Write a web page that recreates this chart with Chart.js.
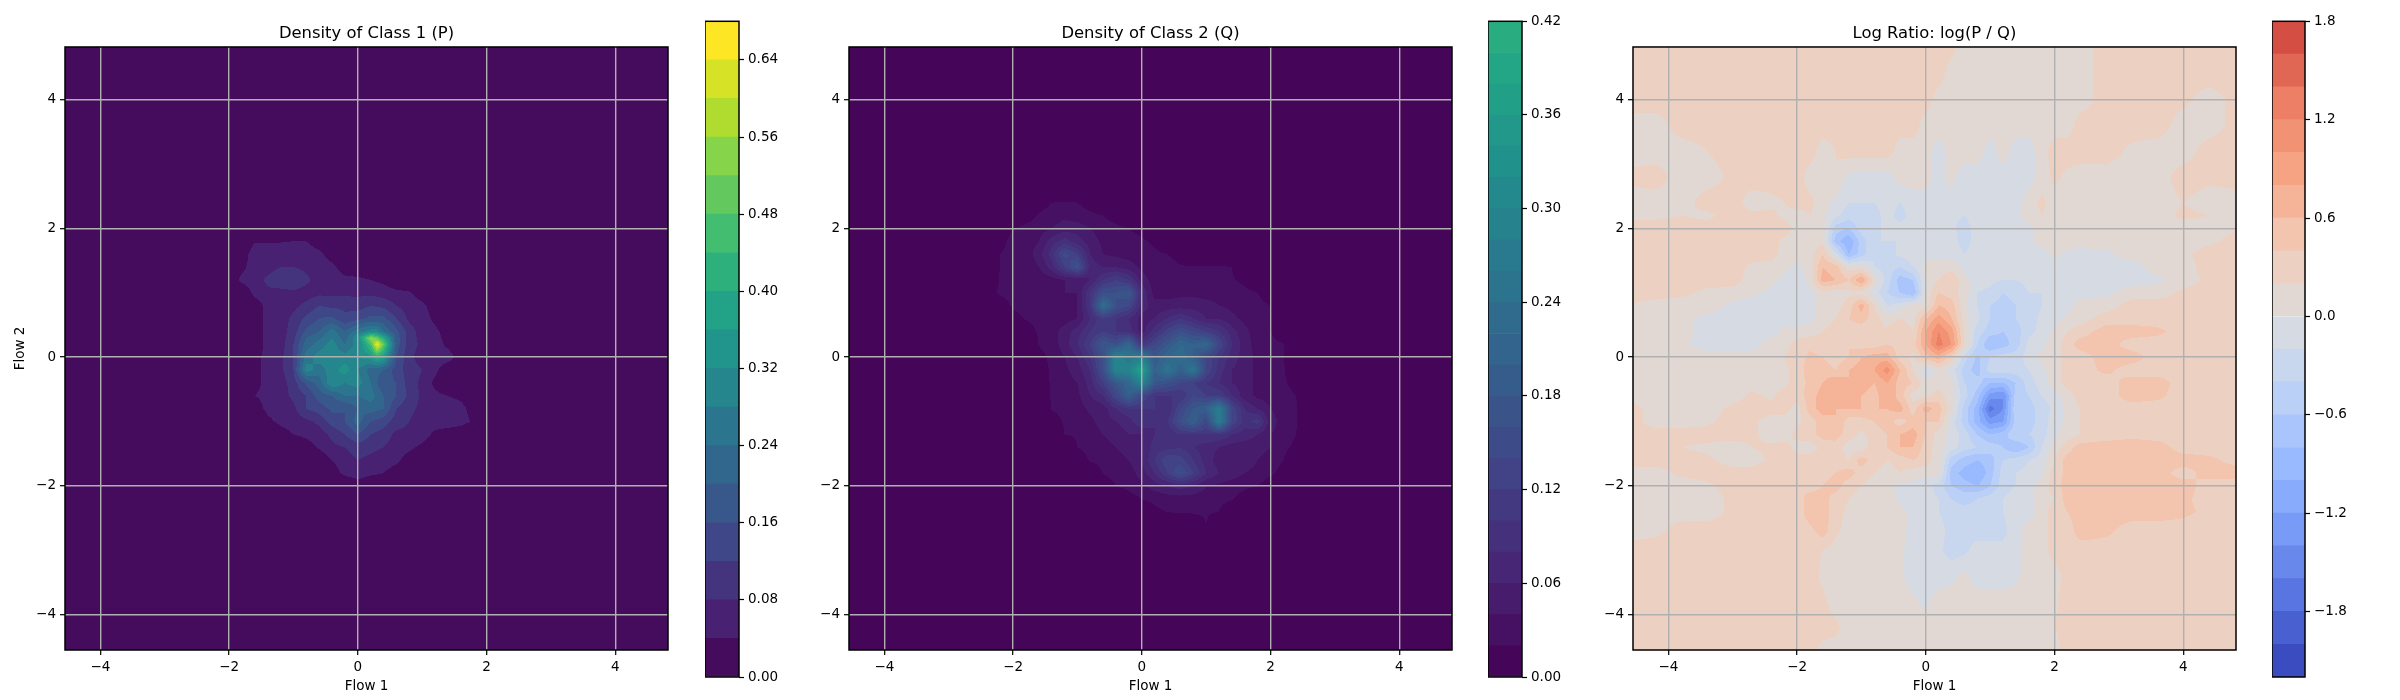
<!DOCTYPE html>
<html>
<head>
<meta charset="utf-8">
<script src="https://cdn.jsdelivr.net/npm/chart.js@4"></script>
<style>
  body { margin: 0; background: #fff; }
  canvas { position: absolute; top: 0; }
</style>
</head>
<body>
<canvas id="panelP"></canvas><canvas id="barP"></canvas>
<canvas id="panelQ"></canvas><canvas id="barQ"></canvas>
<canvas id="panelR"></canvas><canvas id="barR"></canvas>
<script>
const axisTicks = [-4, -2, 0, 2, 4];

const levelsP = [0, 0.04, 0.08, 0.12, 0.16, 0.2, 0.24, 0.28, 0.32, 0.36, 0.4, 0.44, 0.48, 0.52, 0.56, 0.6, 0.64, 0.68];
const ticksP = [0, 0.08, 0.16, 0.24, 0.32, 0.4, 0.48, 0.56, 0.64];
const levelsQ = [0, 0.02, 0.04, 0.06, 0.08, 0.1, 0.12, 0.14, 0.16, 0.18, 0.2, 0.22, 0.24, 0.26, 0.28, 0.3, 0.32, 0.34, 0.36, 0.38, 0.4, 0.42];
const ticksQ = [0, 0.06, 0.12, 0.18, 0.24, 0.3, 0.36, 0.42];
const levelsR = [-2.2, -2, -1.8, -1.6, -1.4, -1.2, -1, -0.8, -0.6, -0.4, -0.2, 0, 0.2, 0.4, 0.6, 0.8, 1, 1.2, 1.4, 1.6, 1.8];
const ticksR = [-1.8, -1.2, -0.6, 0, 0.6, 1.2, 1.8];

// density of class 1 (extra nodes at the bright spot)
const xsP = [-2, -1.8, -1.6, -1.4, -1.2, -1, -.8, -.6, -.4, -.2, 0, .2, .3, .4, .6, .8, 1, 1.2, 1.4, 1.6, 1.8, 2];
const ysP = [2, 1.8, 1.6, 1.4, 1.2, 1, .8, .6, .4, .3, .2, 0, -.2, -.4, -.6, -.8, -1, -1.2, -1.4, -1.6, -1.8, -2];
const valuesP = [
  [0, 0, 0, 0, 0, 0, 0, 0, 0, 0, 0, 0, 0, 0, 0, 0, 0, 0, 0, 0, 0, 0],
  [0, .01, .038, .038, .038, .04, .04, .02, 0, 0, 0, 0, 0, 0, 0, 0, 0, 0, 0, 0, 0, 0],
  [0, .02, .06, .06, .06, .07, .06, .05, .02, 0, 0, 0, 0, 0, 0, 0, 0, 0, 0, 0, 0, 0],
  [0, .03, .06, .06, .08, .08, .07, .06, .05, .02, .01, 0, 0, 0, 0, 0, 0, 0, 0, 0, 0, 0],
  [.01, .05, .06, .09, .12, .12, .09, .06, .06, .05, .05, .04, .035, .03, .01, 0, 0, 0, 0, 0, 0, 0],
  [0, .01, .05, .07, .06, .07, .06, .07, .07, .07, .07, .07, .065, .06, .05, .045, .02, 0, 0, 0, 0, 0],
  [0, 0, .02, .05, .06, .07, .09, .12, .11, .11, .1, .12, .115, .11, .08, .06, .05, .02, 0, 0, 0, 0],
  [0, 0, .02, .05, .06, .09, .13, .16, .17, .13, .15, .17, .17, .17, .12, .07, .06, .03, 0, 0, 0, 0],
  [0, 0, .02, .05, .06, .1, .17, .2, .26, .2, .26, .3, .3, .24, .17, .1, .06, .05, .02, 0, 0, 0],
  [0, 0, .02, .05, .06, .11, .2, .23, .28, .22, .32, .55, .5, .4, .18, .1, .065, .055, .025, 0, 0, 0],
  [0, 0, .02, .05, .06, .12, .22, .26, .3, .24, .3, .46, .66, .5, .18, .1, .07, .06, .03, 0, 0, 0],
  [0, 0, .03, .05, .07, .12, .26, .3, .3, .3, .32, .34, .4, .36, .16, .09, .06, .06, .06, .02, 0, 0],
  [0, 0, .03, .05, .07, .12, .3, .26, .3, .34, .28, .22, .21, .2, .14, .1, .08, .05, .01, 0, 0, 0],
  [0, 0, .03, .05, .06, .1, .17, .22, .32, .28, .3, .24, .2, .17, .16, .1, .07, .03, 0, 0, 0, 0],
  [0, 0, .04, .05, .06, .09, .12, .18, .2, .24, .24, .26, .23, .2, .16, .11, .07, .05, .04, .03, 0, 0],
  [0, 0, .02, .05, .06, .07, .12, .14, .17, .16, .2, .22, .21, .2, .12, .09, .07, .06, .06, .055, .02, 0],
  [0, 0, 0, .03, .05, .06, .07, .09, .14, .16, .22, .16, .15, .14, .1, .08, .06, .06, .06, .055, .035, 0],
  [0, 0, 0, 0, .02, .04, .05, .06, .09, .12, .16, .12, .11, .1, .07, .07, .06, .03, .02, .01, 0, 0],
  [0, 0, 0, 0, 0, 0, .02, .045, .07, .08, .1, .09, .085, .08, .06, .05, .03, 0, 0, 0, 0, 0],
  [0, 0, 0, 0, 0, 0, 0, .01, .04, .06, .08, .07, .065, .06, .05, .02, 0, 0, 0, 0, 0, 0],
  [0, 0, 0, 0, 0, 0, 0, 0, .02, .05, .06, .05, .045, .04, .02, 0, 0, 0, 0, 0, 0, 0],
  [0, 0, 0, 0, 0, 0, 0, 0, 0, 0, .02, 0, 0, 0, 0, 0, 0, 0, 0, 0, 0, 0],
];

// density of class 2
const xsQ = [-2.4, -2.2, -2, -1.8, -1.6, -1.4, -1.2, -1, -.8, -.6, -.4, -.2, 0, .2, .4, .6, .8, 1, 1.2, 1.4, 1.6, 1.8, 2, 2.2, 2.4, 2.6];
const ysQ = [2.6, 2.4, 2.2, 2, 1.8, 1.6, 1.4, 1.2, 1, .8, .6, .4, .2, 0, -.2, -.4, -.6, -.8, -1, -1.2, -1.4, -1.6, -1.8, -2, -2.2, -2.4, -2.6, -2.8];
const valuesQ = [
  [0, 0, 0, 0, 0, 0, 0, 0, 0, 0, 0, 0, 0, 0, 0, 0, 0, 0, 0, 0, 0, 0, 0, 0, 0, 0],
  [0, 0, 0, 0, .01, .02, .022, .02, .01, 0, 0, 0, 0, 0, 0, 0, 0, 0, 0, 0, 0, 0, 0, 0, 0, 0],
  [0, 0, 0, .01, .022, .03, .035, .03, .025, .02, .01, 0, 0, 0, 0, 0, 0, 0, 0, 0, 0, 0, 0, 0, 0, 0],
  [0, .01, .02, .025, .03, .04, .05, .05, .04, .03, .025, .02, .01, 0, 0, 0, 0, 0, 0, 0, 0, 0, 0, 0, 0, 0],
  [0, .015, .025, .03, .04, .07, .09, .07, .05, .035, .03, .03, .025, .015, 0, 0, 0, 0, 0, 0, 0, 0, 0, 0, 0, 0],
  [0, .02, .025, .03, .05, .09, .15, .12, .06, .04, .035, .03, .03, .025, .02, .015, 0, 0, 0, 0, 0, 0, 0, 0, 0, 0],
  [0, .021, .025, .025, .04, .07, .12, .17, .07, .06, .06, .05, .035, .025, .025, .021, .022, .022, .022, .02, 0, 0, 0, 0, 0, 0],
  [.01, .021, .025, .03, .025, .03, .04, .04, .06, .1, .12, .1, .05, .03, .025, .025, .025, .025, .025, .022, .015, 0, 0, 0, 0, 0],
  [.015, .022, .025, .025, .03, .03, .04, .04, .1, .16, .16, .18, .08, .03, .03, .035, .035, .03, .03, .03, .025, .02, .01, 0, 0, 0],
  [0, .012, .022, .025, .025, .025, .03, .04, .1, .24, .16, .14, .07, .05, .05, .05, .05, .05, .04, .035, .03, .025, .02, 0, 0, 0],
  [0, 0, .015, .021, .025, .03, .03, .04, .08, .12, .1, .08, .05, .06, .08, .1, .08, .06, .06, .045, .035, .025, .021, 0, 0, 0],
  [0, 0, 0, .012, .022, .03, .05, .07, .1, .12, .1, .09, .05, .09, .13, .16, .14, .12, .1, .07, .045, .03, .021, .005, 0, 0],
  [0, 0, 0, 0, .021, .03, .05, .08, .12, .18, .16, .22, .1, .14, .18, .22, .2, .22, .14, .08, .05, .03, .025, .021, 0, 0],
  [0, 0, 0, 0, .012, .025, .04, .06, .1, .16, .3, .26, .28, .18, .22, .24, .2, .14, .1, .07, .05, .035, .025, .021, 0, 0],
  [0, 0, 0, 0, .01, .023, .035, .05, .08, .16, .3, .3, .38, .2, .26, .2, .26, .14, .09, .06, .05, .035, .025, .022, .005, 0],
  [0, 0, 0, 0, .01, .022, .03, .04, .07, .12, .18, .22, .3, .18, .16, .14, .12, .1, .08, .06, .05, .035, .025, .022, .015, 0],
  [0, 0, 0, 0, .005, .022, .03, .035, .06, .08, .14, .2, .14, .1, .1, .1, .14, .12, .12, .08, .05, .035, .03, .025, .02, 0],
  [0, 0, 0, 0, 0, .021, .025, .03, .045, .05, .08, .1, .1, .1, .08, .14, .18, .2, .28, .14, .08, .06, .04, .03, .021, 0],
  [0, 0, 0, 0, 0, .012, .022, .025, .035, .05, .06, .07, .1, .08, .1, .16, .2, .14, .28, .14, .09, .11, .05, .03, .021, .005],
  [0, 0, 0, 0, 0, 0, .02, .022, .03, .04, .05, .06, .06, .08, .08, .1, .1, .1, .1, .08, .07, .06, .04, .03, .02, 0],
  [0, 0, 0, 0, 0, 0, .005, .02, .025, .03, .04, .05, .06, .09, .09, .1, .08, .07, .06, .05, .05, .05, .04, .025, .015, 0],
  [0, 0, 0, 0, 0, 0, 0, .01, .022, .025, .03, .04, .06, .1, .14, .13, .1, .07, .05, .06, .05, .04, .03, .02, 0, 0],
  [0, 0, 0, 0, 0, 0, 0, 0, .005, .021, .025, .03, .05, .08, .12, .16, .12, .08, .06, .05, .04, .035, .025, .012, 0, 0],
  [0, 0, 0, 0, 0, 0, 0, 0, 0, .01, .02, .025, .035, .05, .06, .07, .06, .04, .035, .03, .025, .02, .005, 0, 0, 0],
  [0, 0, 0, 0, 0, 0, 0, 0, 0, 0, 0, .012, .02, .025, .03, .03, .03, .03, .025, .022, .01, 0, 0, 0, 0, 0],
  [0, 0, 0, 0, 0, 0, 0, 0, 0, 0, 0, 0, 0, .015, .021, .022, .022, .022, .02, .005, 0, 0, 0, 0, 0, 0],
  [0, 0, 0, 0, 0, 0, 0, 0, 0, 0, 0, 0, 0, 0, 0, 0, .01, .02, .005, 0, 0, 0, 0, 0, 0, 0],
  [0, 0, 0, 0, 0, 0, 0, 0, 0, 0, 0, 0, 0, 0, 0, 0, 0, 0, 0, 0, 0, 0, 0, 0, 0, 0],
];

// log ratio, covers the whole axes; finer nodes in the middle
const xsR = [-4.6, -4.2, -3.8, -3.4, -3, -2.7, -2.4, -2.2, -2, -1.8, -1.6, -1.4, -1.2, -1, -.8, -.6, -.4, -.2, 0, .2, .4, .6, .8, 1, 1.2, 1.4, 1.6, 1.8, 2, 2.2, 2.4, 2.8, 3.2, 3.6, 4, 4.4, 4.9];
const ysR = [4.9, 4.4, 4, 3.6, 3.2, 2.8, 2.4, 2.2, 2, 1.8, 1.6, 1.4, 1.2, 1, .8, .6, .4, .2, 0, -.2, -.4, -.6, -.8, -1, -1.2, -1.4, -1.6, -1.8, -2, -2.2, -2.4, -2.7, -3, -3.4, -3.8, -4.2, -4.6];
const valuesR = [
  [.3, .3, .3, .3, .3, .3, .3, .3, .3, .3, .3, .3, .3, .3, .3, .3, .3, .3, .3, .3, .3, .1, .1, .1, .1, .1, .1, .1, .1, .1, .1, .3, .3, .3, .3, .3, .3],
  [.3, .3, .3, .3, .3, .3, .3, .3, .3, .3, .3, .3, .3, .3, .3, .3, .3, .3, .3, .3, .1, .1, .1, .1, .1, .1, .1, .1, .1, .1, .1, .3, .3, .3, .3, .3, .3],
  [.3, .3, .3, .3, .3, .3, .3, .3, .3, .3, .3, .3, .3, .3, .3, .3, .3, .3, .3, .1, .1, .1, .1, .1, .1, .1, .1, .1, .1, .1, .1, .3, .3, .3, .25, .1, .3],
  [.1, .1, .3, .3, .3, .3, .3, .3, .3, .3, .3, .3, .3, .3, .3, .3, .3, .3, .1, .1, .1, .1, .1, .1, .1, .1, .1, .1, .1, .1, .3, .3, .3, .3, .1, .1, .3],
  [.1, .1, .1, .2, .3, .3, .3, .3, .3, .3, .1, .2, .3, .3, .3, .3, .1, .1, .1, -.1, .1, .1, .1, -.1, .1, -.1, -.1, .1, .3, .3, .3, .3, .15, .1, .1, .3, .3],
  [.25, .3, .1, .1, .25, .3, .3, .3, .3, .1, .1, .2, -.05, -.1, -.1, -.1, .1, .1, .05, -.05, .05, -.1, -.1, -.1, -.1, -.1, -.1, .1, .25, .15, .1, .1, .1, .1, .3, .25, .3],
  [.1, .1, .1, .3, .3, .1, .15, .2, .3, .25, .1, -.05, -.2, -.2, -.2, -.1, -.2, -.1, -.05, -.05, -.05, -.1, -.05, -.1, -.1, -.1, .1, .25, .1, .1, .1, .1, .1, .1, .2, .1, .1],
  [.15, .15, .2, .15, .3, .25, .25, .15, .1, .2, .05, -.15, -.3, -.3, -.3, -.1, -.3, -.1, -.1, -.1, -.15, -.2, -.1, -.1, -.1, -.05, .1, .2, .1, .1, .1, .1, .1, .1, .25, .2, .1],
  [.3, .3, .3, .3, .3, .25, .25, .3, .15, .05, .1, -.5, -.6, -.3, -.3, -.1, -.1, -.15, -.1, -.1, -.15, -.3, -.1, -.1, -.1, -.05, -.05, .05, .1, .1, .1, .1, .1, .1, .1, .1, .2],
  [.3, .3, .3, .3, .3, .3, .3, .15, .1, .1, .15, -.7, -1, -.5, -.2, -.2, -.2, -.1, -.1, -.1, -.1, -.3, -.1, -.1, -.1, -.1, -.05, .1, .1, .1, .1, .1, .1, .1, .1, .15, .3],
  [.3, .3, .3, .3, .3, .3, .3, .1, .05, .1, .4, -.1, -.8, -.5, -.2, -.3, -.15, -.1, -.05, -.05, -.05, -.2, -.05, -.05, -.1, -.1, -.1, -.1, .05, -.05, -.1, -.05, .1, .1, .15, .3, .3],
  [.3, .3, .3, .3, .3, .15, .1, .05, -.05, .1, .6, .5, .1, .1, -.2, -.3, -.4, -.2, .05, .1, .1, -.05, -.1, -.1, -.15, -.1, -.1, -.1, -.1, -.1, -.1, -.1, -.1, .1, .1, .3, .3],
  [.3, .3, .3, .3, .3, .1, .05, -.05, -.1, .05, .7, .6, .4, .8, .15, -.3, -.7, -.6, .05, .2, .4, .05, -.1, -.15, -.2, -.2, -.15, -.1, -.1, -.1, -.1, -.1, -.1, -.05, .1, .25, .3],
  [.3, .3, .25, .15, .1, .05, -.05, -.1, -.15, -.05, .1, .1, .15, .1, -.1, -.4, -.6, -.8, .05, .4, .3, .1, -.2, -.25, -.4, -.3, -.2, -.2, -.15, -.1, -.1, -.05, .1, .1, .25, .3, .3],
  [.2, .1, .1, .1, -.05, -.1, -.1, -.15, -.1, -.1, .1, .1, .3, .7, .2, -.2, -.1, .1, .1, .6, .5, .05, -.2, -.4, -.5, -.4, -.4, -.2, -.2, -.1, .1, .1, .3, .3, .3, .3, .3],
  [.1, .1, .05, -.05, -.1, -.15, -.1, -.1, -.1, -.05, .1, .2, .4, .5, .3, .1, .2, .1, .6, .9, .6, .1, -.15, -.4, -.5, -.4, -.3, -.15, -.1, .05, .1, .3, .3, .3, .3, .3, .3],
  [.1, .1, .05, -.05, -.1, -.05, -.1, .05, .05, .1, .2, .3, .3, .25, .2, .25, .4, .2, .8, 1.2, .9, .15, -.3, -.5, -.6, -.5, -.25, -.15, .05, .2, .3, .5, .5, .45, .3, .3, .3],
  [.1, .1, .05, -.1, -.1, -.1, .1, .1, .3, .35, .3, .4, .4, .3, .3, .4, .3, .3, .8, 1.3, 1, .2, -.4, -.8, -.7, -.5, -.15, -.05, .1, .3, .5, .5, .3, .3, .3, .3, .3],
  [.1, .1, .1, .1, .1, .1, .1, .2, .3, .45, .4, .3, .4, .6, .7, .7, .3, .15, .5, .7, .3, -.3, -.65, -.4, -.3, -.3, -.1, .05, .1, .3, .3, .5, .5, .3, .3, .3, .3],
  [.1, .1, .1, .1, .1, .1, .1, .15, .3, .5, .5, .4, .6, .7, .8, 1.1, .6, .2, -.2, .1, -.1, -.5, -.7, -.3, -.3, -.3, -.2, -.05, .1, .3, .3, .45, .3, .3, .3, .3, .3],
  [.1, .1, .1, .1, .1, .1, .1, .15, .3, .45, .6, .8, .6, .7, .6, .8, .5, .4, .05, .1, .05, -.4, -.5, -.8, -.8, -.6, -.3, -.1, .1, .3, .3, .3, .5, .5, .3, .3, .3],
  [.1, .1, .1, .1, .1, .25, .15, .3, .3, .5, .7, .8, .7, .6, .5, .8, .5, .1, .15, .3, .05, -.3, -.7, -1.3, -1.4, -.5, -.4, -.2, -.1, .1, .3, .3, .5, .45, .3, .3, .3],
  [.3, .1, .1, .1, .25, .3, .3, .3, .1, .5, .7, .6, .6, .6, .6, .6, .7, .3, .7, .5, .1, -.5, -.9, -1.7, -1.4, -.4, -.5, -.3, -.15, .05, .2, .3, .3, .3, .3, .3, .3],
  [.3, .1, .1, .15, .3, .25, .1, .1, .15, .3, .5, .6, .3, .3, .4, .5, .3, .5, .4, .4, -.1, -.5, -.9, -1.3, -1.2, -.5, -.5, -.3, -.1, .05, .2, .3, .3, .3, .3, .3, .3],
  [.25, .3, .3, .3, .3, .25, .1, .05, .3, .3, .5, .5, .3, .15, .3, .4, .6, .7, .4, .1, -.05, -.3, -.6, -.8, -.7, -.4, -.4, -.3, -.05, .1, .2, .3, .35, .3, .3, .3, .3],
  [.3, .3, .2, .15, .1, .2, .25, .3, .1, .1, .25, .3, .1, .1, .3, .4, .6, .6, .3, .1, -.1, -.3, -.4, -.5, -.6, -.8, -.6, -.2, .1, .3, .5, .5, .5, .5, .3, .3, .3],
  [.3, .3, .3, .25, .1, .1, .25, .3, .3, .3, .3, .3, .2, .5, .3, .2, .3, .4, .3, .1, -.5, -.7, -.8, -.7, -.4, -.3, -.2, -.1, .2, .5, .5, .5, .5, .5, .5, .45, .3],
  [.1, .1, .25, .3, .3, .3, .3, .3, .3, .3, .3, .4, .5, .3, .2, .1, .2, .1, .05, .1, -.7, -.9, -1, -.7, -.3, -.2, -.15, -.05, .3, .45, .5, .5, .5, .5, .3, .5, .5],
  [.1, .1, .1, .15, .3, .3, .3, .3, .4, .3, .4, .5, .3, .2, .1, .05, -.05, -.05, -.1, -.3, -.6, -.7, -.8, -.6, -.3, -.2, -.1, .1, .3, .5, .5, .5, .5, .5, .5, .3, .3],
  [.1, .1, .1, .1, .25, .35, .3, .3, .3, .5, .5, .3, .2, .1, .1, .1, -.05, -.1, -.1, -.2, -.4, -.5, -.4, -.3, -.2, -.1, -.05, .1, .2, .5, .5, .5, .5, .5, .45, .3, .3],
  [.1, .1, .1, .1, .25, .3, .3, .3, .3, .5, .5, .3, .15, .1, .1, .1, .05, -.05, -.1, -.2, -.3, -.3, -.3, -.3, -.2, -.1, -.1, .1, .3, .4, .5, .5, .5, .5, .45, .35, .3],
  [.1, .15, .3, .3, .3, .3, .3, .3, .3, .35, .5, .25, .1, .1, .1, .1, .05, -.05, -.1, -.1, -.3, -.3, -.3, -.3, -.25, -.1, .1, .1, .3, .3, .5, .45, .3, .3, .3, .3, .3],
  [.3, .3, .3, .3, .3, .3, .3, .3, .3, .25, .2, .1, .1, .1, .1, .1, .05, -.1, -.1, -.15, -.3, -.25, -.1, -.1, -.15, -.1, .1, .1, .3, .3, .3, .3, .3, .3, .3, .3, .3],
  [.3, .3, .3, .3, .3, .3, .3, .3, .3, .3, .15, .1, .1, .1, .1, .1, .05, -.1, -.1, -.1, -.05, .05, -.1, -.1, -.1, -.05, .1, .1, .1, .3, .3, .4, .3, .3, .3, .3, .3],
  [.3, .3, .3, .3, .3, .3, .3, .3, .3, .3, .25, .1, .1, .1, .1, .1, .1, .05, -.05, .1, .1, .1, .1, .1, .1, .1, .1, .1, .15, .3, .3, .3, .3, .3, .3, .3, .3],
  [.3, .3, .3, .3, .3, .3, .3, .3, .3, .3, .3, .25, .1, .1, .1, .1, .1, .1, .1, .1, .1, .1, .1, .1, .1, .1, .1, .1, .2, .3, .3, .3, .3, .3, .3, .3, .3],
  [.3, .3, .3, .3, .3, .3, .3, .3, .3, .3, .1, .1, .1, .1, .1, .1, .1, .1, .1, .1, .1, .1, .1, .1, .1, .1, .1, .1, .1, .3, .3, .3, .3, .3, .3, .3, .3],
];

const VIRIDIS = ["#440154", "#482475", "#414487", "#355f8d", "#2a788e", "#21918c", "#22a884", "#44bf70", "#7ad151", "#bddf26", "#fde725"];
const COOLWARM = ["#3b4cc0", "#5977e3", "#7b9ff9", "#9ebeff", "#c0d4f5", "#dddcdc", "#f2cbb7", "#f7a889", "#ee8468", "#d65244", "#b40426"];
const FONT = "'DejaVu Sans'";
const GRID = "#b0b0b0";

function sampleMap(map, t) {
  const pos = Math.min(Math.max(t, 0), 1) * (map.length - 1);
  const i = Math.min(Math.floor(pos), map.length - 2);
  const a = parseInt(map[i].slice(1), 16), b = parseInt(map[i + 1].slice(1), 16);
  const f = pos - i;
  return [16, 8, 0].map(s => Math.round(((a >> s) & 255) * (1 - f) + ((b >> s) & 255) * f));
}

// band colours: midpoint of each band through the shared norm
function bandColors(levels, map, lo, hi) {
  return levels.slice(1).map((top, i) => sampleMap(map, ((levels[i] + top) / 2 - lo) / (hi - lo)));
}

function frac(nodes, v, descending) {
  const s = descending ? -1 : 1;
  if (s * v <= s * nodes[0]) return 0;
  for (let i = 0; i < nodes.length - 1; i++) {
    if (s * v <= s * nodes[i + 1]) return i + (v - nodes[i]) / (nodes[i + 1] - nodes[i]);
  }
  return nodes.length - 1;
}

// filled contours of a value grid, placed through the chart's scales
const contourFill = {
  id: "contourFill",
  beforeDatasetsDraw(chart, args, opts) {
    const { ctx, chartArea: a, scales } = chart;
    const w = Math.round(a.right - a.left), h = Math.round(a.bottom - a.top);
    const img = ctx.createImageData(w, h);
    const { xs, ys, rows, levels, colors } = opts;
    const inX = v => v >= xs[0] && v <= xs[xs.length - 1];
    const inY = v => v <= ys[0] && v >= ys[ys.length - 1];
    const fx = [], fy = [], vx = [], vy = [];
    for (let px = 0; px < w; px++) {
      vx[px] = scales.x.getValueForPixel(a.left + px + 0.5);
      fx[px] = frac(xs, vx[px], false);
    }
    for (let py = 0; py < h; py++) {
      vy[py] = scales.y.getValueForPixel(a.top + py + 0.5);
      fy[py] = frac(ys, vy[py], true);
    }
    for (let py = 0; py < h; py++) {
      const j = Math.min(Math.floor(fy[py]), ys.length - 2), tj = fy[py] - j;
      for (let px = 0; px < w; px++) {
        let v = levels[0];
        if (inX(vx[px]) && inY(vy[py])) {
          const i = Math.min(Math.floor(fx[px]), xs.length - 2), ti = fx[px] - i;
          v = (rows[j][i] * (1 - ti) + rows[j][i + 1] * ti) * (1 - tj) +
              (rows[j + 1][i] * (1 - ti) + rows[j + 1][i + 1] * ti) * tj;
        }
        let band = 0;
        while (band < colors.length - 1 && v >= levels[band + 1]) band++;
        const c = colors[band], k = (py * w + px) * 4;
        img.data[k] = c[0]; img.data[k + 1] = c[1]; img.data[k + 2] = c[2]; img.data[k + 3] = 255;
      }
    }
    ctx.putImageData(img, Math.round(a.left), Math.round(a.top));
  },
};

const frame = {
  id: "frame",
  afterDraw(chart) {
    const { ctx, chartArea: a } = chart;
    ctx.save();
    ctx.strokeStyle = "#000";
    ctx.lineWidth = 1.5;
    ctx.strokeRect(a.left, a.top, a.right - a.left, a.bottom - a.top);
    ctx.restore();
  },
};

function minus(s) {
  return String(s).replace("-", "\u2212");
}

function place(id, left, width) {
  const c = document.getElementById(id);
  c.style.left = left + "px";
  c.width = width;
  c.height = 700;
  return c.getContext("2d");
}

function axisOpts(title) {
  return {
    type: "linear",
    min: -4.55,
    max: 4.82,
    afterBuildTicks: s => { s.ticks = axisTicks.map(v => ({ value: v })); },
    ticks: { color: "#000", font: { family: FONT, size: 13.5 }, padding: 4, maxRotation: 0, callback: v => minus(v) },
    grid: { color: GRID, lineWidth: 1.4, z: 1, tickColor: "#000", tickLength: 5, tickWidth: 1.2 },
    border: { display: false },
    title: title,
  };
}

function drawPanel(id, left, plotLeft, titleText, yTitle, xs, ys, rows, levels, colors) {
  const ctx = place(id, left, plotLeft - left + 603 + 12);
  const nodes = [];
  ys.forEach((y, j) => xs.forEach((x, i) => nodes.push({ x: x, y: y, v: rows[j][i] })));
  const xAxis = axisOpts({ display: true, text: "Flow 1", color: "#000", font: { family: FONT, size: 13.5 }, padding: { top: 0, bottom: 5.5 } });
  xAxis.afterFit = s => { s.height = 50; };
  const yAxis = axisOpts({ display: !!yTitle, text: yTitle, color: "#000", font: { family: FONT, size: 13.5 }, padding: { top: 7, bottom: 0 } });
  yAxis.afterFit = s => { s.width = plotLeft - left; };
  new Chart(ctx, {
    type: "scatter",
    data: { datasets: [{ label: titleText, data: nodes, pointRadius: 0, pointHoverRadius: 0 }] },
    options: {
      responsive: false,
      animation: false,
      devicePixelRatio: 1,
      layout: { padding: { right: 12 } },
      scales: { x: xAxis, y: yAxis },
      plugins: {
        legend: { display: false },
        tooltip: { enabled: false },
        title: {
          display: true, text: titleText, color: "#000", fullSize: false,
          font: { family: FONT, size: 16.4, weight: "normal", lineHeight: 1.2 },
          padding: { top: 24.3, bottom: 3 },
        },
        contourFill: { xs: xs, ys: ys, rows: rows, levels: levels, colors: colors },
      },
    },
    plugins: [contourFill, frame],
  });
}

function drawColorbar(id, left, width, levels, tickVals, digits, colors) {
  const ctx = place(id, left, width + 62);
  new Chart(ctx, {
    type: "bar",
    data: {
      labels: [""],
      datasets: colors.map((c, i) => ({
        data: [[levels[i], levels[i + 1]]],
        backgroundColor: "rgb(" + c.join(",") + ")",
        borderWidth: 0,
        barPercentage: 1,
        categoryPercentage: 1,
      })),
    },
    options: {
      responsive: false,
      animation: false,
      devicePixelRatio: 1,
      layout: { padding: { top: 21.3, bottom: 23 } },
      scales: {
        x: { display: false, stacked: true },
        y: {
          position: "right",
          min: levels[0],
          max: levels[levels.length - 1],
          afterBuildTicks: s => { s.ticks = tickVals.map(v => ({ value: v })); },
          afterFit: s => { s.width = 62; },
          ticks: { color: "#000", font: { family: FONT, size: 13.5 }, padding: 4, callback: v => minus(v.toFixed(digits)) },
          grid: { drawOnChartArea: false, tickColor: "#000", tickLength: 5, tickWidth: 1.2 },
          border: { display: false },
        },
      },
      plugins: { legend: { display: false }, tooltip: { enabled: false } },
    },
    plugins: [frame],
  });
}

const colorsP = bandColors(levelsP, VIRIDIS, 0, 0.66);
const colorsQ = bandColors(levelsQ, VIRIDIS, 0, 0.66);
const colorsR = bandColors(levelsR, COOLWARM, -2.1, 2.1);

[valuesP, valuesQ, valuesR].forEach((g, n) => {
  const len = [xsP, xsQ, xsR][n].length;
  g.forEach((r, i) => { if (r.length !== len) throw new Error("grid " + n + " row " + i + " has " + r.length); });
});

drawPanel("panelP", 5, 65, "Density of Class 1 (P)", "Flow 2", xsP, ysP, valuesP, levelsP, colorsP);
drawColorbar("barP", 705, 34, levelsP, ticksP, 2, colorsP);
drawPanel("panelQ", 790, 849, "Density of Class 2 (Q)", "", xsQ, ysQ, valuesQ, levelsQ, colorsQ);
drawColorbar("barQ", 1488, 34, levelsQ, ticksQ, 2, colorsQ);
drawPanel("panelR", 1575, 1633, "Log Ratio: log(P / Q)", "", xsR, ysR, valuesR, levelsR, colorsR);
drawColorbar("barR", 2272, 33, levelsR, ticksR, 1, colorsR);
</script>
</body>
</html>
